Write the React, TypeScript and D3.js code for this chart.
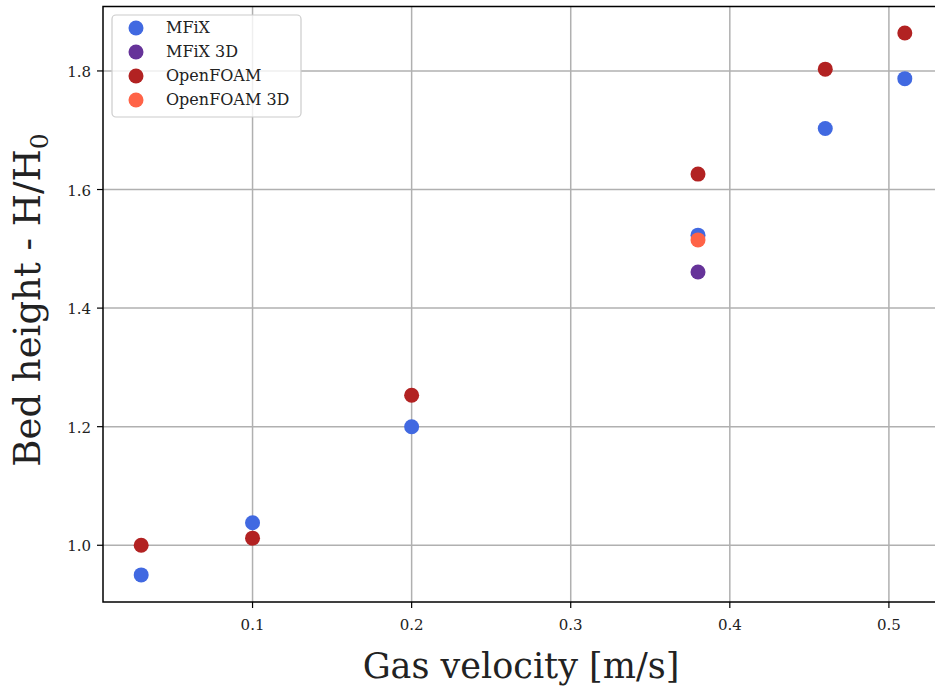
import React from "react";
import * as d3 from "d3";

const mfixX = [0.03, 0.1, 0.2, 0.38, 0.46, 0.51];
const mfixY = [0.95, 1.038, 1.2, 1.523, 1.703, 1.787];
const mfix3dX = [0.38];
const mfix3dY = [1.461];
const foamX = [0.03, 0.1, 0.2, 0.38, 0.46, 0.51];
const foamY = [1.0, 1.012, 1.253, 1.626, 1.803, 1.864];
const foam3dX = [0.38];
const foam3dY = [1.515];
const xTicks = [0.1, 0.2, 0.3, 0.4, 0.5];
const yTicks = [1.0, 1.2, 1.4, 1.6, 1.8];

const series = [
  { name: "MFiX", xs: mfixX, ys: mfixY, color: "#4169E1" },
  { name: "MFiX 3D", xs: mfix3dX, ys: mfix3dY, color: "#663399" },
  { name: "OpenFOAM", xs: foamX, ys: foamY, color: "#B22222" },
  { name: "OpenFOAM 3D", xs: foam3dX, ys: foam3dY, color: "#FF6347" },
];

const FONT = "'DejaVu Serif', 'Liberation Serif', serif";

export default function App() {
  const W = 935, H = 686;
  const L = 103, R = 943, T = 6.5, B = 602;
  const x = d3.scaleLinear().domain([0.006, 0.534]).range([L, R]);
  const y = d3.scaleLinear().domain([0.9043, 1.9087]).range([B, T]);
  return (
    <svg width={W} height={H} style={{ position: "absolute", left: 0, top: 0 }}>
      <rect width={W} height={H} fill="white" />
      {xTicks.map((t) => (
        <line key={"gx" + t} x1={x(t)} x2={x(t)} y1={T} y2={B} stroke="#b0b0b0" strokeWidth={1.5} />
      ))}
      {yTicks.map((t) => (
        <line key={"gy" + t} x1={L} x2={R} y1={y(t)} y2={y(t)} stroke="#b0b0b0" strokeWidth={1.5} />
      ))}
      {series.map((s) =>
        s.xs.map((v, i) => (
          <circle key={s.name + i} cx={x(v)} cy={y(s.ys[i])} r={7.5} fill={s.color} />
        ))
      )}
      <rect x={L} y={T} width={R - L} height={B - T} fill="none" stroke="black" strokeWidth={1.5} />
      {xTicks.map((t) => (
        <g key={"tx" + t}>
          <line x1={x(t)} x2={x(t)} y1={B} y2={B + 6} stroke="black" strokeWidth={1.2} />
          <text x={x(t)} y={B + 28} textAnchor="middle" fontFamily={FONT} fontSize={15} fill="#222">
            {t.toFixed(1)}
          </text>
        </g>
      ))}
      {yTicks.map((t) => (
        <g key={"ty" + t}>
          <line x1={L - 6} x2={L} y1={y(t)} y2={y(t)} stroke="black" strokeWidth={1.2} />
          <text x={L - 12} y={y(t) + 6} textAnchor="end" fontFamily={FONT} fontSize={15} fill="#222">
            {t.toFixed(1)}
          </text>
        </g>
      ))}
      <text x={521} y={678} textAnchor="middle" fontFamily={FONT} fontSize={35} fill="#222">
        Gas velocity [m/s]
      </text>
      <text
        transform={`translate(40, 300) rotate(-90)`}
        textAnchor="middle"
        fontFamily={FONT}
        fontSize={37}
        fill="#222"
      >
        Bed height - H/H<tspan fontSize={25} dy={8}>0</tspan>
      </text>
      <g>
        <rect x={112} y={15} width={189} height={102} rx={4} fill="white" fillOpacity={0.8} stroke="#cccccc" strokeWidth={1.2} />
        {series.map((s, i) => (
          <g key={"lg" + s.name}>
            <circle cx={136} cy={28 + i * 24} r={7.5} fill={s.color} />
            <text x={166} y={33 + i * 24} fontFamily={FONT} fontSize={16} fill="#222">
              {s.name}
            </text>
          </g>
        ))}
      </g>
    </svg>
  );
}
